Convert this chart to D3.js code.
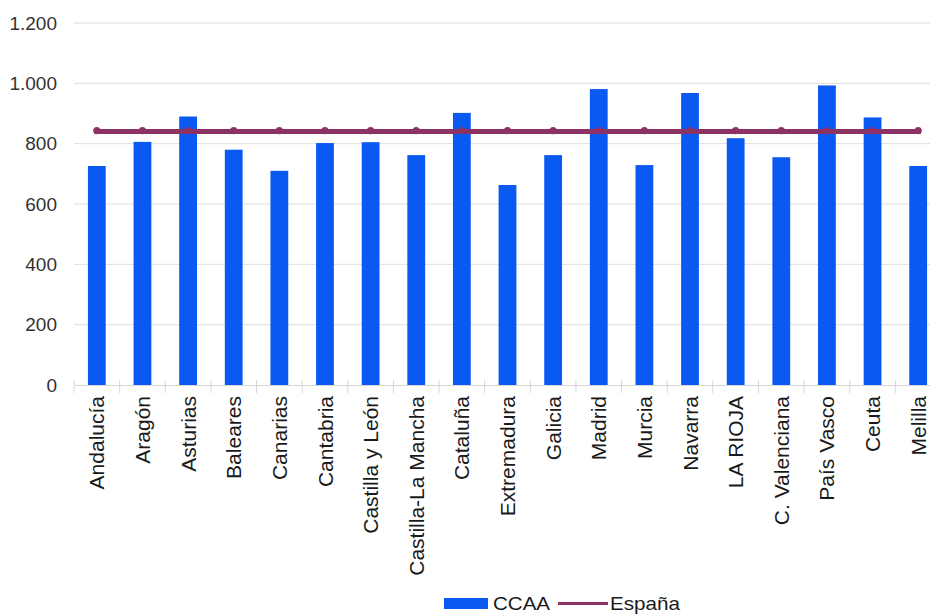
<!DOCTYPE html>
<html>
<head>
<meta charset="utf-8">
<script src="https://cdn.jsdelivr.net/npm/d3@7"></script>
<style>
  body { margin: 0; background: #fff; }
  svg { font-family: "Liberation Sans", Arial, sans-serif; display: block; }
</style>
</head>
<body>
<svg id="chart" width="930" height="614"></svg>
<script>
const regions = ["Andalucía", "Aragón", "Asturias", "Baleares", "Canarias", "Cantabria",
  "Castilla y León", "Castilla-La Mancha", "Cataluña", "Extremadura", "Galicia", "Madrid",
  "Murcia", "Navarra", "LA RIOJA", "C. Valenciana", "País Vasco", "Ceuta", "Melilla"];
const ccaa = [726, 806, 890, 780, 710, 802, 805, 762, 902, 663, 762, 981, 729, 968, 818, 755, 993, 887, 726];
const espana = [840, 840, 840, 840, 840, 840, 840, 840, 840, 840, 840, 840, 840, 840, 840, 840, 840, 840, 840];
const yTicks = [0, 200, 400, 600, 800, 1000, 1200];

const blue = "#0a5af2", purple = "#8c3366";
const svg = d3.select("#chart");
const plotLeft = 74, plotRight = 941, plotTop = 23, plotBottom = 385;

const x = d3.scaleBand().domain(regions).range([plotLeft, plotRight]);
const y = d3.scaleLinear().domain([0, 1200]).range([plotBottom, plotTop]);
const fmt = d3.formatLocale({decimal: ",", thousands: ".", grouping: [3], currency: ["", "€"]}).format(",");

// grid lines
svg.append("g").selectAll("line").data(yTicks.slice(1)).enter().append("line")
  .attr("x1", plotLeft).attr("x2", 930)
  .attr("y1", d => y(d)).attr("y2", d => y(d))
  .attr("stroke", "#dedede").attr("stroke-width", 1);

// y labels
svg.append("g").selectAll("text").data(yTicks).enter().append("text")
  .attr("x", 57).attr("y", d => y(d)).attr("dy", "0.35em")
  .attr("text-anchor", "end").attr("font-size", 19).attr("fill", "#333")
  .text(d => fmt(d));

// bars
const bw = x.bandwidth() * 0.39;
svg.append("g").selectAll("rect").data(regions).enter().append("rect")
  .attr("x", d => x(d) + x.bandwidth() / 2 - bw / 2)
  .attr("y", (d, i) => y(ccaa[i]))
  .attr("width", bw)
  .attr("height", (d, i) => plotBottom - y(ccaa[i]))
  .attr("fill", blue);

// x axis
const xAxis = svg.append("g").attr("transform", "translate(0," + plotBottom + ")")
  .call(d3.axisBottom(x).tickSize(0).tickFormat(""));
xAxis.select(".domain").attr("stroke", "#d6d6d6");
svg.append("g").selectAll("line").data(regions).enter().append("line")
  .attr("x1", d => x(d)).attr("x2", d => x(d))
  .attr("y1", plotBottom - 5).attr("y2", plotBottom + 8)
  .attr("stroke", "#d6d6d6");

svg.append("g").selectAll("text").data(regions).enter().append("text")
  .attr("transform", d => "translate(" + (x(d) + x.bandwidth() / 2) + "," + (plotBottom + 11) + ") rotate(-90)")
  .attr("dy", "0.36em")
  .attr("text-anchor", "end").attr("font-size", 21).attr("fill", "#1a1a1a")
  .text(d => d);

// España line
const line = d3.line().x((d, i) => x(regions[i]) + x.bandwidth() / 2).y(d => y(d));
svg.append("path").datum(espana).attr("d", line)
  .attr("fill", "none").attr("stroke", purple).attr("stroke-width", 5).attr("stroke-linecap", "square");
svg.append("g").selectAll("circle").data(espana).enter().append("circle")
  .attr("cx", (d, i) => x(regions[i]) + x.bandwidth() / 2)
  .attr("cy", d => y(d) - 1)
  .attr("r", 3.6)
  .attr("fill", purple);

// legend
const lg = svg.append("g");
lg.append("rect").attr("x", 444).attr("y", 598).attr("width", 44).attr("height", 11).attr("fill", blue);
lg.append("text").attr("x", 493).attr("y", 610).attr("font-size", 19).attr("fill", "#1a1a1a")
  .attr("textLength", 57).attr("lengthAdjust", "spacingAndGlyphs").text("CCAA");
lg.append("line").attr("x1", 558).attr("x2", 608).attr("y1", 603.5).attr("y2", 603.5)
  .attr("stroke", purple).attr("stroke-width", 3);
lg.append("text").attr("x", 610).attr("y", 610).attr("font-size", 19).attr("fill", "#1a1a1a")
  .attr("textLength", 70).attr("lengthAdjust", "spacingAndGlyphs").text("España");
</script>
</body>
</html>
